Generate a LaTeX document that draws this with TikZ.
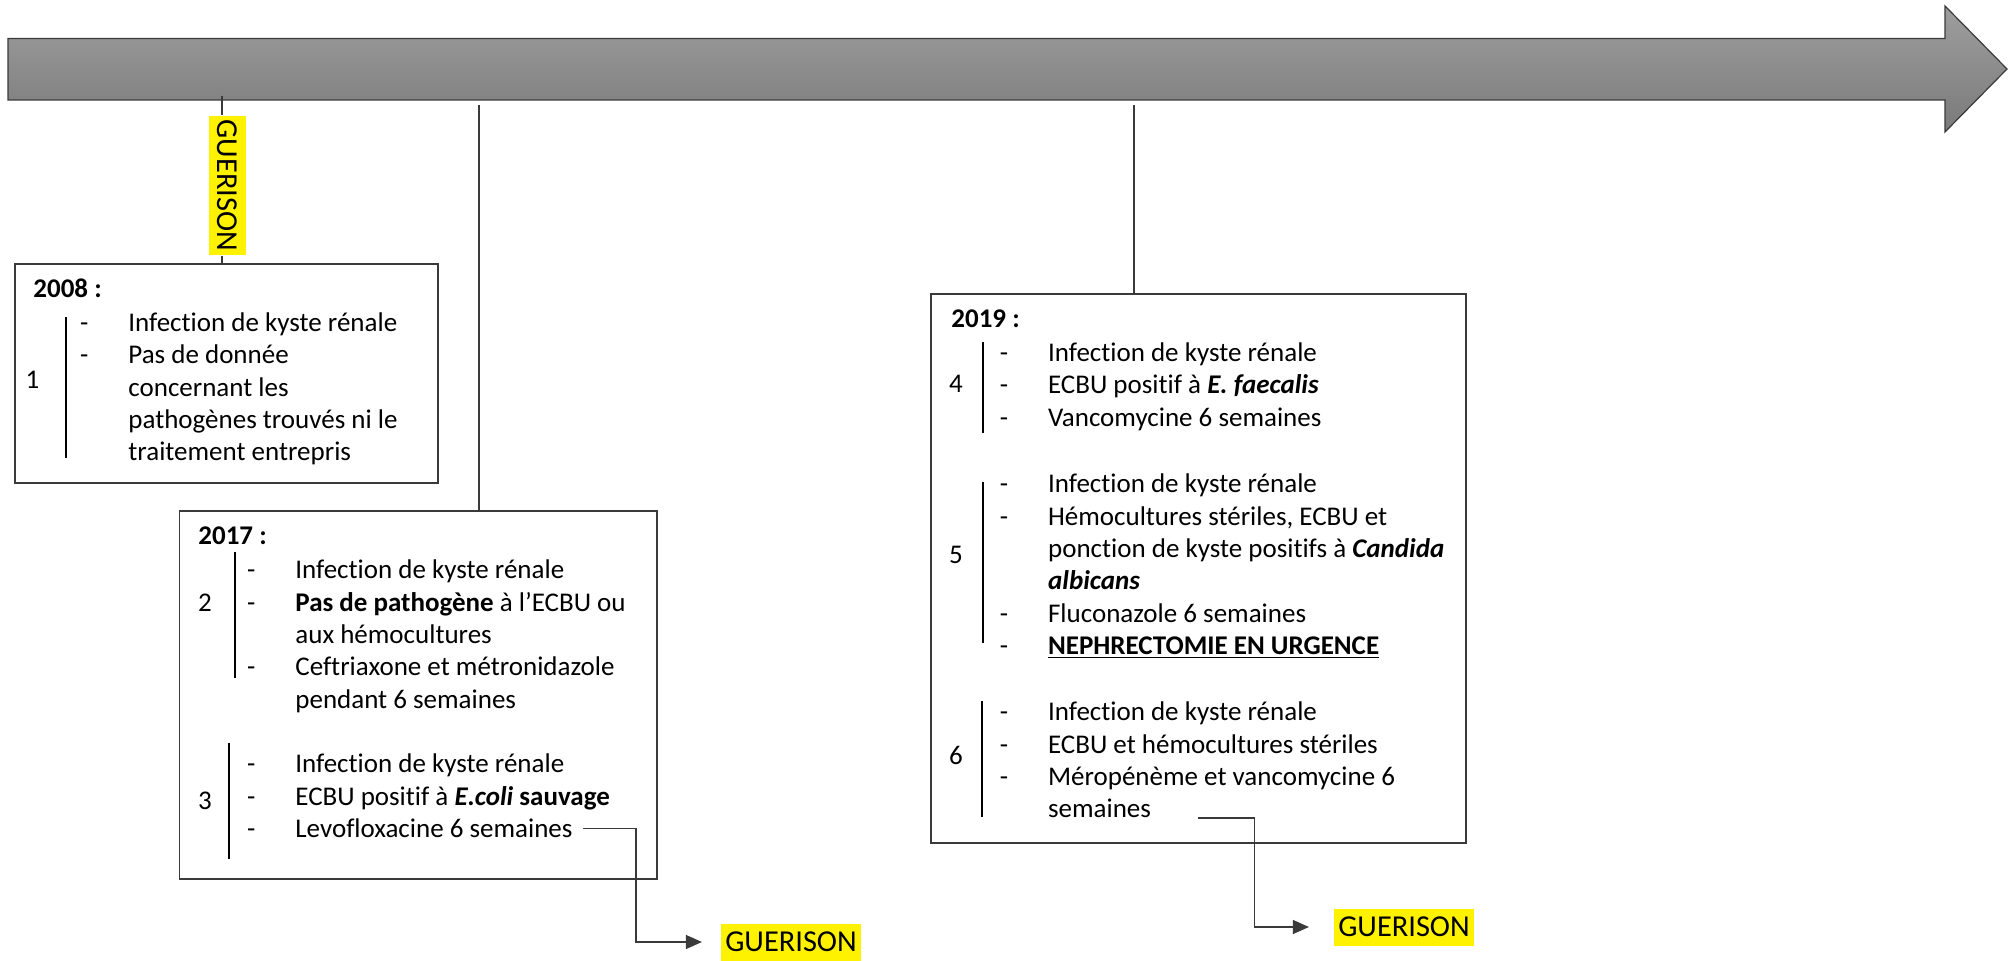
\documentclass[tikz,border=0pt]{standalone}
\usepackage{fontspec}
\setmainfont{Carlito}[Ligatures=NoCommon]
\usepackage{tikz}
\usetikzlibrary{positioning,arrows.meta,shapes}

\definecolor{bordgris}{HTML}{3A3A3A}
\definecolor{flecheclair}{HTML}{9E9E9E}
\definecolor{flechefonce}{HTML}{7A7A7A}
\newcommand{\tiret}{\llap{-\hspace{20pt}}}

\begin{document}
\begin{tikzpicture}[x=0.5pt, y=-0.5pt,
        txt/.style={anchor=base west, inner sep=0pt, font=\fontsize{13.5}{16}\selectfont},
        annee/.style={txt, font=\fontsize{13.5}{16}\selectfont\bfseries},
        num/.style={inner sep=0pt, font=\fontsize{13.5}{16}\selectfont},
        cadre/.style={draw=bordgris, line width=0.8pt, anchor=north west, inner sep=0pt},
        barre/.style={line width=1.4pt},
        tige/.style={draw=bordgris, line width=0.6pt},
        guerison/.style={fill=yellow, inner xsep=2pt, inner ysep=0pt, minimum height=18.5pt, font=\fontsize{15.2}{18}\selectfont},
        lien/.style={draw=bordgris, line width=0.6pt, -{Triangle[length=8pt,width=7pt]}}
    ]
    \useasboundingbox (0,0) rectangle (2013,961);

    % frise
    \shade[top color=flecheclair, bottom color=flechefonce, draw=bordgris, line width=0.6pt]
        (8,38.5) -- (1945,38.5) -- (1945,6) -- (2007,69) -- (1945,132) -- (1945,100) -- (8,100) -- cycle;

    % cadres
    \node[cadre, minimum width=211.5pt, minimum height=109.5pt] (c2008) at (14,263) {};
    \node[cadre, minimum width=238.75pt, minimum height=184pt] (c2017) at (178.5,510) {};
    \node[cadre, minimum width=267.5pt, minimum height=274.5pt] (c2019) at (930,293) {};

    % tiges
    \coordinate (t1) at (222,96);
    \coordinate (t2) at (479,105);
    \coordinate (t3) at (1134,105);
    \node[guerison, rotate=-90] (g1) at (227,185.5) {GUERISON};
    \draw[tige] (t1) -- (t1 |- g1.west) (t1 |- g1.east) -- (t1 |- c2008.north);
    \draw[tige] (t2) -- (t2 |- c2017.north);
    \draw[tige] (t3) -- (t3 |- c2019.north);

    % 2008
    \node[annee] (y2008) at (33,298) {2008 :};
    \node[num] (n1) at (32.5,380) {1};
    \draw[barre] (66,317) -- (66,458);
    \foreach \k/\ligne in {0/{\tiret Infection de kyste rénale}, 1/{\tiret Pas de donnée},
            2/{concernant les}, 3/{pathogènes trouvés ni le}, 4/{traitement entrepris}}
        \node[txt] (e1-\k) at (128,{331.7+32.3*\k}) {\ligne};

    % 2017
    \node[annee] (y2017) at (198,545) {2017 :};
    \node[num] (n2) at (205,603) {2};
    \draw[barre] (235,552) -- (235,678);
    \foreach \k/\ligne in {0/{\tiret Infection de kyste rénale}, 1/{\tiret \textbf{Pas de pathogène} à l’ECBU ou},
            2/{aux hémocultures}, 3/{\tiret Ceftriaxone et métronidazole}, 4/{pendant 6 semaines}}
        \node[txt] (e2-\k) at (295,{579+32.3*\k}) {\ligne};
    \node[num] (n3) at (205,801) {3};
    \draw[barre] (229,743) -- (229,859);
    \foreach \k/\ligne in {0/{\tiret Infection de kyste rénale}, 1/{\tiret ECBU positif à \textbf{\textit{E.coli}} \textbf{sauvage}},
            2/{\tiret Levofloxacine 6 semaines}}
        \node[txt] (e3-\k) at (295,{773+32.3*\k}) {\ligne};

    % 2019
    \node[annee] (y2019) at (951,328) {2019 :};
    \node[num] (n4) at (956,384) {4};
    \draw[barre] (983,342) -- (983,433);
    \foreach \k/\ligne in {0/{\tiret Infection de kyste rénale}, 1/{\tiret ECBU positif à \textbf{\textit{E. faecalis}}},
            2/{\tiret Vancomycine 6 semaines}}
        \node[txt] (e4-\k) at (1047.7,{361.5+32.3*\k}) {\ligne};
    \node[num] (n5) at (956,555) {5};
    \draw[barre] (983,482) -- (983,643);
    \foreach \k/\ligne in {0/{\tiret Infection de kyste rénale}, 1/{\tiret Hémocultures stériles, ECBU et},
            2/{ponction de kyste positifs à \textbf{\textit{Candida}}}, 3/{\textbf{\textit{albicans}}},
            4/{\tiret Fluconazole 6 semaines}, 5/{\tiret \underline{\textbf{NEPHRECTOMIE EN URGENCE}}}}
        \node[txt] (e5-\k) at (1047.7,{493+32.3*\k}) {\ligne};
    \node[num] (n6) at (956,755) {6};
    \draw[barre] (982,701) -- (982,817);
    \foreach \k/\ligne in {0/{\tiret Infection de kyste rénale}, 1/{\tiret ECBU et hémocultures stériles},
            2/{\tiret Méropénème et vancomycine 6}, 3/{semaines}}
        \node[txt] (e6-\k) at (1047.7,{721+32.3*\k}) {\ligne};

    % guerisons
    \node[guerison] (g2) at (791,942) {GUERISON};
    \node[guerison] (g3) at (1404,927) {GUERISON};
    \draw[lien, shorten >=9.5pt] ([xshift=5pt]e3-2.east) -- ++(53,0) |- (g2);
    \draw[lien, shorten >=12.5pt] ([xshift=23.5pt]e6-3.base east) -- ++(56,0) |- (g3);
\end{tikzpicture}
\end{document}
